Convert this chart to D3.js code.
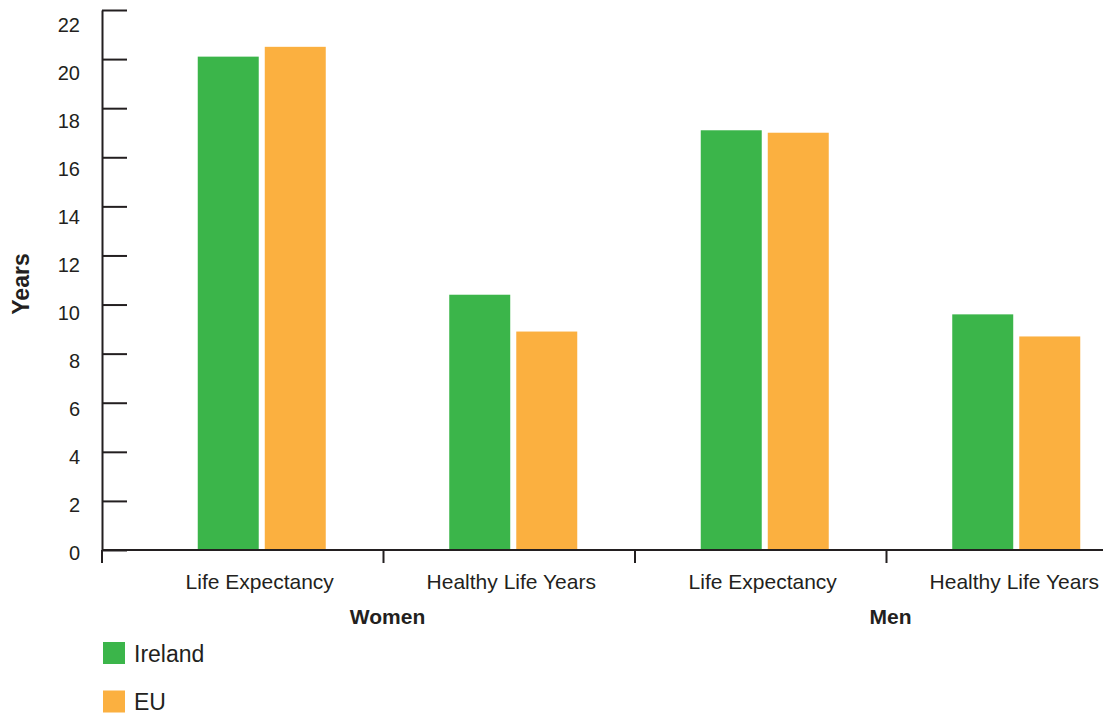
<!DOCTYPE html>
<html>
<head>
<meta charset="utf-8">
<script src="https://cdn.jsdelivr.net/npm/d3@7"></script>
<style>
  body { margin: 0; background: #fff; }
  text { font-family: "Liberation Sans", Arial, Helvetica, sans-serif; fill: #231f20; }
  .axis line, .axis path { stroke: #231f20; stroke-width: 2; }
</style>
</head>
<body>
<div id="chart"></div>
<script>
var categories = ['Life Expectancy', 'Healthy Life Years', 'Life Expectancy', 'Healthy Life Years'];
var groups = ['Women', 'Women', 'Men', 'Men'];
var series = ['Ireland', 'EU'];
var ireland = [20.1, 10.4, 17.1, 9.6];
var eu = [20.5, 8.9, 17.0, 8.7];
var y_ticks = [0, 2, 4, 6, 8, 10, 12, 14, 16, 18, 20, 22];
var colors = ['#3bb54a', '#fbb040'];

var width = 1103;
var height = 714;
var axis_x = 102;
var axis_y = 550;

var svg = d3.select('#chart')
  .append('svg')
  .attr('width', width)
  .attr('height', height);

// scales
var y_scale = d3.scaleLinear()
  .domain([0, 22])
  .range([axis_y, 10]);
// tick labels in the original sit on a slightly tighter spacing
var y_label = d3.scaleLinear()
  .domain([0, 22])
  .range([552.5, 24.5]);

var idx = d3.range(categories.length);
var x0 = d3.scaleBand()
  .domain(idx)
  .range([136, 1142]);
var x1 = d3.scaleBand()
  .domain(series)
  .range([0, 128])
  .paddingInner(0.09);

// y axis: ticks pointing right
var y_axis = d3.axisRight(y_scale)
  .tickValues(y_ticks)
  .tickSize(25)
  .tickSizeOuter(0)
  .tickFormat('');
svg.append('g')
  .attr('class', 'axis')
  .attr('transform', 'translate(' + axis_x + ',0)')
  .call(y_axis);

svg.append('g')
  .selectAll('text')
  .data(y_ticks)
  .enter()
  .append('text')
  .attr('x', 80)
  .attr('y', function (d) { return y_label(d); })
  .attr('dy', '0.36em')
  .attr('text-anchor', 'end')
  .style('font-size', '20px')
  .text(function (d) { return d; });

svg.append('text')
  .attr('transform', 'translate(29,284) rotate(-90)')
  .attr('text-anchor', 'middle')
  .style('font-size', '23px')
  .style('font-weight', 'bold')
  .text('Years');

// bars
var rows = idx.map(function (i) {
  return { i: i, values: [ireland[i], eu[i]] };
});
var bar_groups = svg.selectAll('.grp')
  .data(rows)
  .enter()
  .append('g')
  .attr('class', 'grp')
  .attr('transform', function (d) {
    return 'translate(' + (x0(d.i) + x0.bandwidth() / 2 - 64) + ',0)';
  });
bar_groups.selectAll('rect')
  .data(function (d) {
    return d.values.map(function (v, k) { return { s: series[k], v: v, k: k }; });
  })
  .enter()
  .append('rect')
  .attr('x', function (d) { return x1(d.s); })
  .attr('width', x1.bandwidth())
  .attr('y', function (d) { return y_scale(d.v); })
  .attr('height', function (d) { return axis_y - y_scale(d.v); })
  .attr('fill', function (d) { return colors[d.k]; });

// x axis
var xa = svg.append('g').attr('class', 'axis');
xa.append('line')
  .attr('x1', axis_x).attr('x2', width)
  .attr('y1', axis_y).attr('y2', axis_y);
var tick_x = [axis_x].concat(idx.slice(1).map(function (i) { return x0(i) - 4; }));
xa.selectAll('.tk')
  .data(tick_x)
  .enter()
  .append('line')
  .attr('class', 'tk')
  .attr('x1', function (d) { return d; })
  .attr('x2', function (d) { return d; })
  .attr('y1', axis_y)
  .attr('y2', axis_y + 13);

svg.append('g')
  .selectAll('text')
  .data(idx)
  .enter()
  .append('text')
  .attr('x', function (i) { return x0(i) + x0.bandwidth() / 2 - 2; })
  .attr('y', 589)
  .attr('text-anchor', 'middle')
  .style('font-size', '21px')
  .text(function (i) { return categories[i]; });

// group labels centered over each pair of categories
var group_names = ['Women', 'Men'];
svg.append('g')
  .selectAll('text')
  .data(group_names)
  .enter()
  .append('text')
  .attr('x', function (g) {
    var members = idx.filter(function (i) { return groups[i] === g; });
    return d3.mean(members, function (i) { return x0(i) + x0.bandwidth() / 2; });
  })
  .attr('y', 624)
  .attr('text-anchor', 'middle')
  .style('font-size', '21px')
  .style('font-weight', 'bold')
  .text(function (g) { return g; });

// legend
var legend = svg.selectAll('.legend')
  .data(series)
  .enter()
  .append('g')
  .attr('class', 'legend')
  .attr('transform', function (d, i) { return 'translate(103,' + (642 + i * 48.5) + ')'; });
legend.append('rect')
  .attr('width', 22)
  .attr('height', 22)
  .attr('fill', function (d, i) { return colors[i]; });
legend.append('text')
  .attr('x', 31)
  .attr('y', 19.5)
  .style('font-size', '23px')
  .text(function (d) { return d; });
</script>
</body>
</html>
